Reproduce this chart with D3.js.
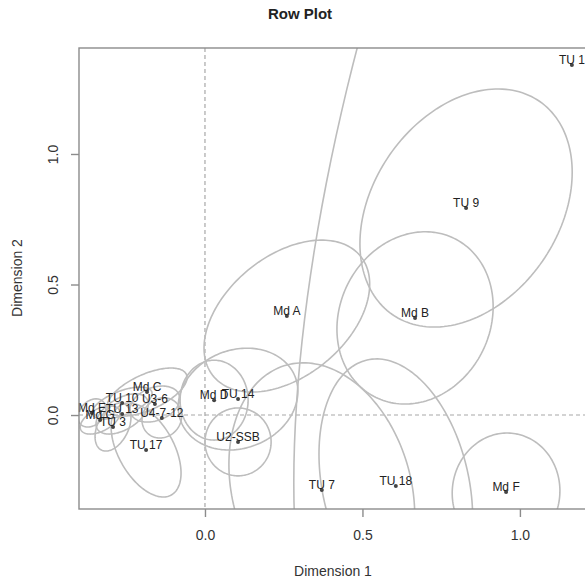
<!DOCTYPE html>
<html>
<head>
<meta charset="utf-8">
<script src="https://cdn.jsdelivr.net/npm/d3@7"></script>
<style>
  body { margin: 0; background: #fff; }
  text { font-family: "Liberation Sans", Arial, Helvetica, sans-serif; }
</style>
</head>
<body>
<div id="chart"></div>
<script>
// row labels and coordinates (dimension 1, dimension 2)
var rowLabels = ["TU 1", "TU 9", "Md A", "Md B", "Md D", "TU 14", "U2-SSB", "TU 7", "TU 18", "Md F",
                 "TU 17", "Md C", "TU 10", "U3-6", "Md E", "TU 13", "U4-7-12", "TU 3", "Md G"];
var dim1 = [1.165, 0.829, 0.260, 0.667, 0.029, 0.105, 0.105, 0.371, 0.606, 0.956,
            -0.187, -0.184, -0.263, -0.159, -0.359, -0.263, -0.137, -0.292, -0.333];
var dim2 = [1.341, 0.793, 0.379, 0.372, 0.057, 0.061, -0.103, -0.287, -0.272, -0.295,
            -0.134, 0.088, 0.046, 0.042, 0.008, 0.004, -0.011, -0.046, -0.019];

// confidence ellipses: half extent on dim 1, half extent on dim 2, correlation
var ellSx = [0.883, 0.337, 0.263, 0.248, 0.108, 0.190, 0.105, 0.295, 0.244, 0.171,
             0.111, 0.127, 0.095, 0.079, 0.044, 0.083, 0.063, 0.057, 0.063];
var ellSy = [2.598, 0.456, 0.291, 0.330, 0.153, 0.195, 0.130, 0.487, 0.487, 0.226,
             0.180, 0.092, 0.061, 0.069, 0.054, 0.077, 0.077, 0.092, 0.054];
var ellR = [0.616, 0.30, 0.42, 0.13, 0.0, 0.15, 0.0, -0.20, -0.25, 0.02,
            -0.49, 0.6, 0.6, 0.3, 0.3, 0.5, 0.1, 0.4, 0.5];

// axis ticks
var xTicks = [0, 0.5, 1];
var yTicks = [0, 0.5, 1];

var svgWidth = 585;
var svgHeight = 585;
var margin = { top: 48, left: 79 };
var width = 508;
var height = 461;

var svg = d3.select("#chart")
    .append("svg")
    .attr("width", svgWidth)
    .attr("height", svgHeight);

var chartGroup = svg.append("g")
    .attr("transform", `translate(${margin.left}, ${margin.top})`);

// scales
var xScale = d3.scaleLinear().domain([-0.4, 1.213]).range([0, width]);
var yScale = d3.scaleLinear().domain([-0.36, 1.406]).range([height, 0]);

svg.append("defs").append("clipPath")
    .attr("id", "plotclip")
  .append("rect")
    .attr("width", width)
    .attr("height", height);

var plotArea = chartGroup.append("g").attr("clip-path", "url(#plotclip)");

// zero lines
plotArea.append("line")
    .attr("x1", xScale(0)).attr("x2", xScale(0))
    .attr("y1", 0).attr("y2", height)
    .attr("stroke", "#a8a8a8").attr("stroke-width", 1.2)
    .attr("stroke-dasharray", "4,3");
plotArea.append("line")
    .attr("x1", 0).attr("x2", width)
    .attr("y1", yScale(0)).attr("y2", yScale(0))
    .attr("stroke", "#a8a8a8").attr("stroke-width", 1.2)
    .attr("stroke-dasharray", "4,3");

// ellipses
var steps = d3.range(0, 361, 2).map(d => d * Math.PI / 180);
var line = d3.line().x(d => xScale(d[0])).y(d => yScale(d[1]));

plotArea.selectAll(".ell")
    .data(rowLabels)
    .enter()
    .append("path")
    .attr("class", "ell")
    .attr("fill", "none")
    .attr("stroke", "#bdbdbd")
    .attr("stroke-width", 1.6)
    .attr("d", function(d, i) {
        var delta = Math.acos(ellR[i]);
        var pts = steps.map(t => [dim1[i] + ellSx[i] * Math.cos(t),
                                  dim2[i] + ellSy[i] * Math.cos(t - delta)]);
        return line(pts);
    });

// points
plotArea.selectAll(".pt")
    .data(rowLabels)
    .enter()
    .append("circle")
    .attr("class", "pt")
    .attr("cx", (d, i) => xScale(dim1[i]))
    .attr("cy", (d, i) => yScale(dim2[i]))
    .attr("r", 2)
    .attr("fill", "#444");

// labels
chartGroup.selectAll(".lab")
    .data(rowLabels)
    .enter()
    .append("text")
    .attr("class", "lab")
    .attr("x", (d, i) => xScale(dim1[i]))
    .attr("y", (d, i) => yScale(dim2[i]) - 1)
    .attr("text-anchor", "middle")
    .style("font-size", "12px")
    .attr("fill", "#222")
    .text(d => d);

// box
chartGroup.append("rect")
    .attr("width", width)
    .attr("height", height)
    .attr("fill", "none")
    .attr("stroke", "#8c8c8c")
    .attr("stroke-width", 1.4);

// axes
var bottomAxis = d3.axisBottom(xScale)
    .tickValues(xTicks)
    .tickFormat(d3.format(".1f"))
    .tickSize(8)
    .tickPadding(13);
var leftAxis = d3.axisLeft(yScale)
    .tickValues(yTicks)
    .tickFormat(d3.format(".1f"))
    .tickSize(8);

var xAxisG = chartGroup.append("g")
    .attr("transform", `translate(0, ${height})`)
    .call(bottomAxis);
var yAxisG = chartGroup.append("g")
    .call(leftAxis);

[xAxisG, yAxisG].forEach(function(g) {
    g.select(".domain").remove();
    g.selectAll(".tick line").attr("stroke", "#8c8c8c").attr("stroke-width", 1.4);
    g.selectAll(".tick text")
        .style("font-size", "14px")
        .style("font-family", "'Liberation Sans', Arial, sans-serif")
        .attr("fill", "#333");
});

yAxisG.selectAll(".tick text")
    .attr("x", null)
    .attr("dy", null)
    .attr("transform", "translate(-21, 0) rotate(-90)")
    .style("text-anchor", "middle");

// titles
svg.append("text")
    .attr("x", 300)
    .attr("y", 19)
    .attr("text-anchor", "middle")
    .style("font-size", "15px")
    .style("font-weight", "bold")
    .attr("fill", "#222")
    .text("Row Plot");

svg.append("text")
    .attr("x", 333)
    .attr("y", 576)
    .attr("text-anchor", "middle")
    .style("font-size", "14px")
    .attr("fill", "#333")
    .text("Dimension 1");

svg.append("text")
    .attr("transform", "translate(22, 278) rotate(-90)")
    .attr("text-anchor", "middle")
    .style("font-size", "14px")
    .attr("fill", "#333")
    .text("Dimension 2");
</script>
</body>
</html>
